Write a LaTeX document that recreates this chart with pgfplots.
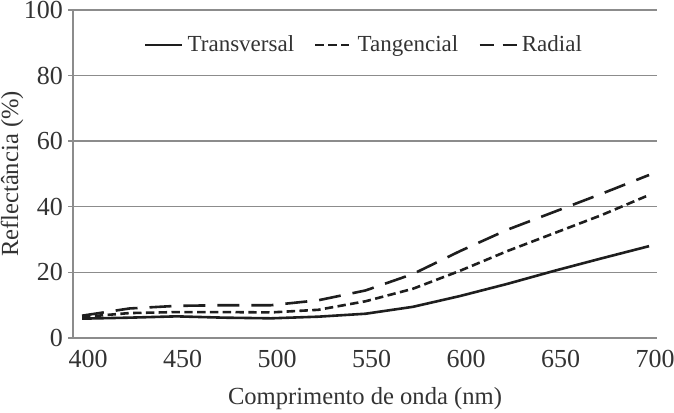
\documentclass[border=0pt]{standalone}
\usepackage{fontspec}
\setmainfont{Liberation Serif}
\usepackage{pgfplots}
\pgfplotsset{compat=1.18}
\definecolor{txt}{HTML}{333333}
\definecolor{gridc}{HTML}{8C8C8C}
\definecolor{ln}{HTML}{1E1E1E}
\begin{document}
\begin{tikzpicture}
\useasboundingbox (-36.5pt,-37pt) rectangle (300.5pt,169pt);
\begin{axis}[
  scale only axis,
  width=292pt, height=164pt,
  xmin=395.2, xmax=704.2,
  ymin=0, ymax=100,
  xtick={400,450,...,700},
  ytick={0,20,...,100},
  axis x line*=bottom,
  axis y line*=left,
  axis line style={gridc, line width=0.7pt, -},
  ymajorgrids,
  grid style={gridc, line width=0.7pt},
  major x tick style={draw=none},
  major y tick style={gridc, line width=0.7pt},
  tick align=outside,
  major tick length=2.5pt,
  /pgf/number format/assume math mode=true,
  /pgf/number format/1000 sep={},
  tick label style={font=\fontsize{13}{15}\selectfont, text=txt},
  xticklabel style={xshift=3pt},
  yticklabel style={xshift=1pt},
  xlabel={Comprimento de onda (nm)},
  ylabel={Reflectância (\%)},
  label style={font=\fontsize{12.3}{14}\selectfont, text=txt},
  xlabel style={at={(axis description cs:0.5,0)}, anchor=base, yshift=-33pt},
  ylabel style={at={(axis description cs:-0.1045,0.5)}, anchor=center},
  legend style={draw=none, fill=none, at={(0.5,0.893)}, anchor=center,
    font=\fontsize{11.5}{13}\selectfont, text=txt, legend columns=3,
    /tikz/every even column/.append style={column sep=8pt}},
  legend image code/.code={\draw[#1] (0pt,0pt) -- (18.5pt,0pt);},
  every axis plot/.append style={ln, line width=1.3pt, no markers},
]
\addplot[solid] coordinates {
(400,5.9) (425,6.2) (450,6.6) (475,6.2) (500,6.0) (525,6.5) (550,7.4) (575,9.5) (600,12.8) (625,16.5) (650,20.5) (675,24.3) (700,28.0)};
\addlegendentry{Transversal}
\addplot[dash pattern=on 4.2pt off 2.2pt] coordinates {
(400,6.4) (425,7.6) (450,7.9) (475,7.9) (500,7.8) (525,8.6) (550,11.2) (575,15.0) (600,20.5) (625,26.5) (650,32.0) (675,37.5) (700,43.6)};
\addlegendentry{Tangencial}
\addplot[dash pattern=on 11pt off 6pt,
  legend image code/.code={\draw[ln, line width=1.3pt, dash pattern=on 7pt off 4.5pt] (0pt,0pt) -- (18.5pt,0pt);}] coordinates {
(400,6.8) (425,9.0) (450,9.8) (475,10.0) (500,10.0) (525,11.5) (550,14.5) (575,19.5) (600,26.5) (625,33.0) (650,38.5) (675,44.0) (700,49.7)};
\addlegendentry{Radial}
\end{axis}
\end{tikzpicture}
\end{document}
